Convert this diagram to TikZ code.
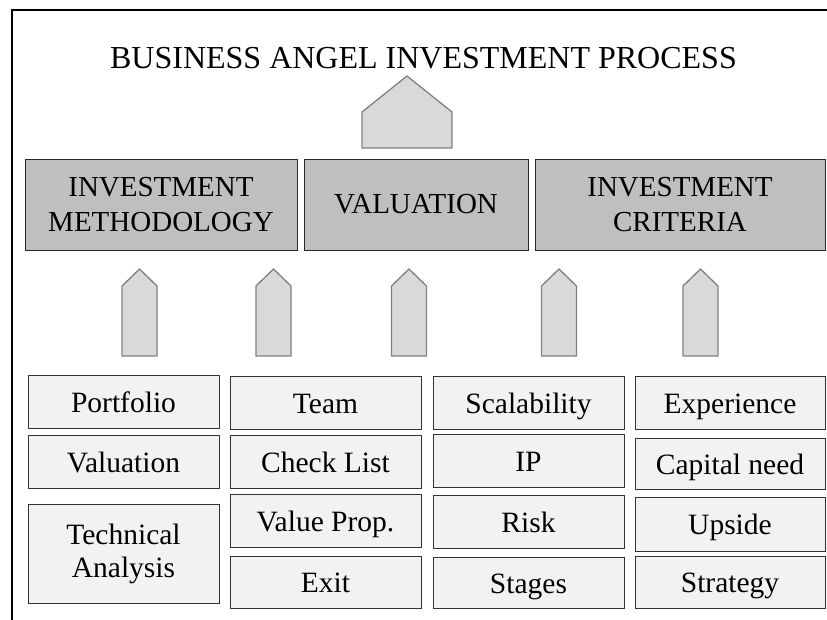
\documentclass[tikz,border=0pt]{standalone}
\usepackage{fontspec}
\setmainfont{Liberation Serif}
\begin{document}
\begin{tikzpicture}[x=1pt,y=-1pt,
  frame/.style={line width=2pt,black},
  headbox/.style={draw=black!85,line width=0.9pt,fill=topgray,
    minimum height=91pt,inner sep=0pt,align=center,
    font=\fontsize{29}{35}\selectfont},
  itembase/.style={draw=black!80,line width=0.9pt,fill=itemgray,
    minimum width=191pt,minimum height=53pt,inner sep=0pt,align=center,
    font=\fontsize{29.5}{33}\selectfont},
  itembox/.style={itembase,text height=21pt,text depth=0pt},
  uparrow/.style={draw=arrowline,line width=1.3pt,fill=arrowfill,line join=miter}
]
\definecolor{topgray}{HTML}{BFBFBF}
\definecolor{itemgray}{HTML}{F2F2F2}
\definecolor{arrowfill}{HTML}{D9D9D9}
\definecolor{arrowline}{HTML}{808080}
\useasboundingbox (0,0) rectangle (827,619);

% outer frame (top and left edges)
\draw[frame] (11,10) -- (830,10);
\draw[frame] (12,9) -- (12,622);

% title
\node[anchor=base,inner sep=0pt,font=\fontsize{32}{38}\selectfont] (title) at (423.5,68) {BUSINESS ANGEL INVESTMENT PROCESS};

% large pointer above the headings
\draw[uparrow] (362,148) -- (362,112) -- (407,76) -- (452,112) -- (452,148) -- cycle;

% headings
\node[headbox,minimum width=272pt] (method) at (161,204.5) {INVESTMENT\\METHODOLOGY};
\node[headbox,minimum width=224pt] (valuation) at (416,204.5) {VALUATION};
\node[headbox,minimum width=290pt] (criteria) at (680,204.5) {INVESTMENT\\CRITERIA};

% small pointers
\foreach \cx in {139.5,273.5,409,559,700.5}{
  \draw[uparrow] (\cx-17.5,356) -- (\cx-17.5,286) -- (\cx,269) -- (\cx+17.5,286) -- (\cx+17.5,356) -- cycle;
}

% first column
\node[itembox] (portfolio) at (123.5,402) {Portfolio};
\node[itembox] (valu) at (123.5,461.5) {Valuation};
\node[itembase,minimum height=99pt] (tech) at (123.5,553.5) {Technical\\Analysis};

% second column
\node[itembox] (team) at (325.5,402.5) {Team};
\node[itembox] (check) at (325.5,461.5) {Check List};
\node[itembox] (valprop) at (325.5,521) {Value Prop.};
\node[itembox,minimum height=52pt] (exit) at (325.5,582) {Exit};

% third column
\node[itembox] (scal) at (528.5,403) {Scalability};
\node[itembox] (ip) at (528.5,460.5) {IP};
\node[itembox] (risk) at (528.5,521.5) {Risk};
\node[itembox,minimum height=51pt] (stages) at (528.5,582.5) {Stages};

% fourth column
\node[itembox,minimum width=190pt] (exper) at (730,403) {Experience};
\node[itembox,minimum width=190pt,minimum height=51pt] (capital) at (730,463.5) {Capital need};
\node[itembox,minimum width=190pt,minimum height=54pt] (upside) at (730,524) {Upside};
\node[itembox,minimum width=190pt,minimum height=52pt] (strategy) at (730,582) {Strategy};
\end{tikzpicture}
\end{document}
